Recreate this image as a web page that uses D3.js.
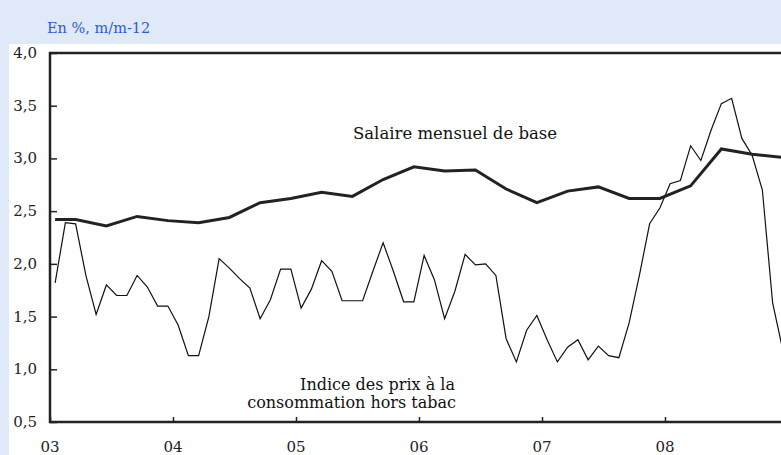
<!DOCTYPE html>
<html>
<head>
<meta charset="utf-8">
<script src="https://cdn.jsdelivr.net/npm/d3@7"></script>
<style>
  body { margin: 0; background: #dfe9f7; }
  svg { display: block; }
</style>
</head>
<body>
<svg id="chart" width="781" height="455"></svg>
<script>
// monthly, Jan 2003 -> Dec 2008
var cpiValues = [
    1.82, 2.39, 2.38, 1.89, 1.52, 1.80, 1.70, 1.70, 1.89, 1.78, 1.60, 1.60,
    1.42, 1.13, 1.13, 1.50, 2.05, 1.96, 1.86, 1.77, 1.48, 1.66, 1.95, 1.95,
    1.58, 1.76, 2.03, 1.93, 1.65, 1.65, 1.65, 1.93, 2.20, 1.93, 1.64, 1.64,
    2.08, 1.85, 1.48, 1.74, 2.09, 1.99, 2.00, 1.89, 1.29, 1.07, 1.37, 1.51,
    1.28, 1.07, 1.21, 1.28, 1.09, 1.22, 1.13, 1.11, 1.44, 1.89, 2.38, 2.53,
    2.76, 2.79, 3.12, 2.98, 3.27, 3.52, 3.57, 3.19, 3.03, 2.70, 1.63, 1.18
];
// month index from Jan 2003 (Jan, then quarter ends)
var salaireMonths = [0, 2, 5, 8, 11, 14, 17, 20, 23, 26, 29, 32, 35, 38, 41, 44, 47, 50, 53, 56, 59, 62, 65, 68, 71];
var salaireValues = [2.42, 2.42, 2.36, 2.45, 2.41, 2.39, 2.44, 2.58, 2.62, 2.68, 2.64, 2.80, 2.92,
    2.88, 2.89, 2.71, 2.58, 2.69, 2.73, 2.62, 2.62, 2.74, 3.09, 3.04, 3.01];
var yearTicks = [2003, 2004, 2005, 2006, 2007, 2008];
var yTicks = [0.5, 1.0, 1.5, 2.0, 2.5, 3.0, 3.5, 4.0];

var svg = d3.select("#chart");
var W = 781, H = 455;
var plot = { left: 50, top: 53, right: 788, bottom: 422 };
var serif = "DejaVu Serif";

// white panel
svg.append("rect")
    .attr("x", 9).attr("y", 44)
    .attr("width", W - 9).attr("height", H - 44)
    .attr("fill", "#fff");

svg.append("text")
    .attr("x", 47).attr("y", 33)
    .style("font-family", serif)
    .style("font-size", "14.5px")
    .attr("fill", "#2a5bd7")
    .text("En %, m/m-12");

var x = d3.scaleLinear().domain([2003, 2009]).range([plot.left, plot.right]);
var y = d3.scaleLinear().domain([0.5, 4.0]).range([plot.bottom, plot.top]);

// month index -> mid-month position
function mx(i) { return x(2003 + (i + 0.5) / 12); }

var fmt = function(d) { return d3.format(".1f")(d).replace(".", ","); };

var yAxis = svg.append("g")
    .attr("transform", "translate(" + plot.left + ",0)")
    .call(d3.axisRight(y).tickValues(yTicks).tickSize(7).tickFormat(""));
yAxis.select(".domain").remove();
yAxis.selectAll("line").attr("stroke", "#222").attr("stroke-width", 1.5);

svg.selectAll(".ylab")
    .data(yTicks)
    .enter().append("text")
    .attr("class", "ylab")
    .attr("x", 37)
    .attr("y", function(d) { return y(d) + 5; })
    .attr("text-anchor", "end")
    .style("font-family", serif)
    .style("font-size", "15px")
    .attr("fill", "#222")
    .text(fmt);

var xAxis = svg.append("g")
    .attr("transform", "translate(0," + plot.bottom + ")")
    .call(d3.axisTop(x).tickValues(yearTicks).tickSize(5).tickFormat(""));
xAxis.select(".domain").remove();
xAxis.selectAll("line").attr("stroke", "#222").attr("stroke-width", 1.5);

svg.selectAll(".xlab")
    .data(yearTicks)
    .enter().append("text")
    .attr("class", "xlab")
    .attr("x", function(d) { return x(d); })
    .attr("y", 452)
    .attr("text-anchor", "middle")
    .style("font-family", serif)
    .style("font-size", "15px")
    .attr("fill", "#222")
    .text(function(d) { return String(d).slice(2); });

// frame: top, left, bottom
svg.append("path")
    .attr("d", "M" + W + "," + plot.top + "H" + plot.left + "V" + plot.bottom + "H" + W)
    .attr("fill", "none")
    .attr("stroke", "#222")
    .attr("stroke-width", 2.5);

var line = d3.line()
    .x(function(d) { return mx(d[0]); })
    .y(function(d) { return y(d[1]); });

svg.append("path")
    .datum(cpiValues.map(function(v, i) { return [i, v]; }))
    .attr("d", line)
    .attr("fill", "none")
    .attr("stroke", "#111")
    .attr("stroke-width", 1.2);

svg.append("path")
    .datum(salaireValues.map(function(v, i) { return [salaireMonths[i], v]; }))
    .attr("d", line)
    .attr("fill", "none")
    .attr("stroke", "#222")
    .attr("stroke-width", 3);

svg.append("text")
    .attr("x", 455).attr("y", 139)
    .attr("text-anchor", "middle")
    .style("font-family", serif)
    .style("font-size", "16.5px")
    .attr("fill", "#111")
    .text("Salaire mensuel de base");

var lbl = svg.append("text")
    .attr("text-anchor", "end")
    .style("font-family", serif)
    .style("font-size", "16px")
    .attr("fill", "#111");
lbl.append("tspan").attr("x", 455).attr("y", 390).text("Indice des prix à la");
lbl.append("tspan").attr("x", 456).attr("y", 408).text("consommation hors tabac");
</script>
</body>
</html>
